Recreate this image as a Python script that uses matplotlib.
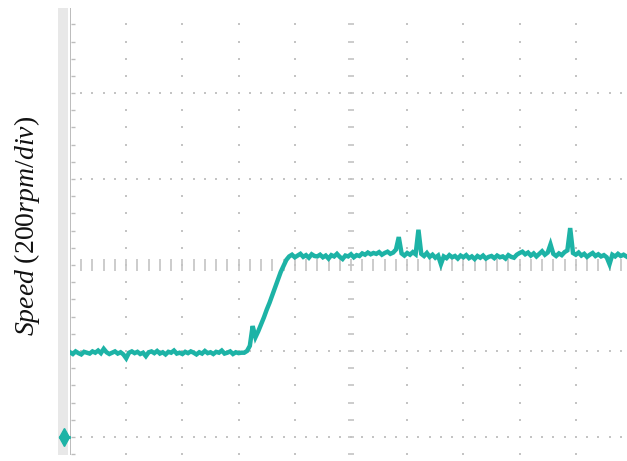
import numpy as np
import matplotlib
matplotlib.use('Agg')
import matplotlib.pyplot as plt
import matplotlib.patches as patches

# scope trace, one sample every 0.05 div
dt_div = 0.05
speed_rpm = [
    197, 193, 199, 195, 192, 198, 196, 194, 199, 196,
    201, 195, 205, 197, 193, 196, 199, 194, 197, 192,
    183, 196, 199, 195, 198, 193, 196, 188, 197, 199,
    195, 200, 194, 197, 192, 198, 196, 201, 194, 196,
    193, 198, 195, 199, 196, 192, 197, 194, 200, 195,
    197, 193, 198, 196, 201, 194, 196, 199, 193, 197,
    195, 196,
    # ramp
    196, 200, 212, 258, 232, 246, 262, 278, 296, 312,
    330, 348, 366, 384, 398, 412, 420,
    # settled
    424, 418, 422, 426, 419, 423, 417, 425, 421, 420,
    424, 418, 422, 415, 423, 420, 426, 419, 414, 422,
    420, 425, 418, 423, 421, 427, 424, 429, 425, 428,
    426, 430, 424, 428, 431, 426, 429, 436, 465, 427,
    422, 428, 424, 430, 425, 482, 426, 421, 428, 419,
    424, 417, 422, 402, 420, 416, 423, 418, 421, 415,
    422, 418, 423, 416, 420, 414, 421, 417, 422, 415,
    419, 421, 416, 422, 418, 420, 415, 423, 419, 417,
    424, 428, 431, 425, 429, 422, 427, 420, 426, 432,
    424, 429, 448, 426, 421, 427, 423, 430, 434, 486,
    428, 424, 429, 422, 426, 419, 424, 428, 421, 425,
    420, 423, 418, 402, 424, 420, 426, 421, 424, 420,
]
t_div = np.arange(len(speed_rpm)) * dt_div

rpm_per_div = 200
grid_x = [1, 2, 3, 4, 5, 6, 7, 8, 9]
grid_y = [0, 200, 400, 600, 800]

plt.rcParams['mathtext.fontset'] = 'custom'
plt.rcParams['mathtext.rm'] = 'Liberation Serif'
plt.rcParams['mathtext.it'] = 'Liberation Serif:italic'

fig = plt.figure(figsize=(6.27, 4.61), dpi=100)
ax = fig.add_axes([70 / 627, 6 / 461, 557 / 627, 447 / 461])
x_max = 557 / 56.2
ax.set_xlim(0, x_max)
ax.set_ylim(-42, 998)

dot = '#c4c4c4'
# dotted graticule
for gx in grid_x:
    ys = np.arange(-40, 1000, rpm_per_div / 5)
    if gx == 5:
        ax.plot([gx] * len(ys), ys, ls='none', marker='_', ms=5, mew=1.2, color=dot)
    else:
        ax.plot([gx] * len(ys), ys, ls='none', marker='s', ms=1.6, mew=0, color=dot)
for gy in grid_y:
    xs = np.arange(0.2, x_max, 0.2)
    if gy == 400:
        ax.plot(xs, [gy] * len(xs), ls='none', marker='|', ms=8, mew=1.2, color=dot)
    else:
        ax.plot(xs, [gy] * len(xs), ls='none', marker='s', ms=1.6, mew=0, color=dot)

# left edge of the screen
ys = np.arange(-40, 1000, rpm_per_div / 5)
ax.plot([0.05] * len(ys), ys, ls='none', marker='_', ms=3, mew=1, color='#bdbdbd')
ax.axvline(0, color='#b0b0b0', lw=1.2)
band = patches.Rectangle((-12 / 56.2, -42), 10 / 56.2, 1040, transform=ax.transData,
                         facecolor='#e8e8e8', edgecolor='none', clip_on=False, zorder=0)
ax.add_patch(band)

# trace
ax.plot(t_div, speed_rpm, color='#1db3a6', lw=3.2, solid_joinstyle='miter', zorder=5)

# ground marker
ax.plot([-6 / 56.2], [0], marker='d', ms=9, color='#1db3a6', clip_on=False, zorder=6)
ax.plot([-10 / 56.2, -1 / 56.2], [0, 0], color='#1db3a6', lw=2, clip_on=False, zorder=6)

for s in ax.spines.values():
    s.set_visible(False)
ax.set_xticks([])
ax.set_yticks([])

fig.text(27 / 627, 1 - 226 / 461, r'$\mathit{Speed}\ (200\mathit{rpm/div})$',
         rotation=90, ha='center', va='center', fontsize=20, color='#111111')

fig.savefig('out.png', dpi=100)
